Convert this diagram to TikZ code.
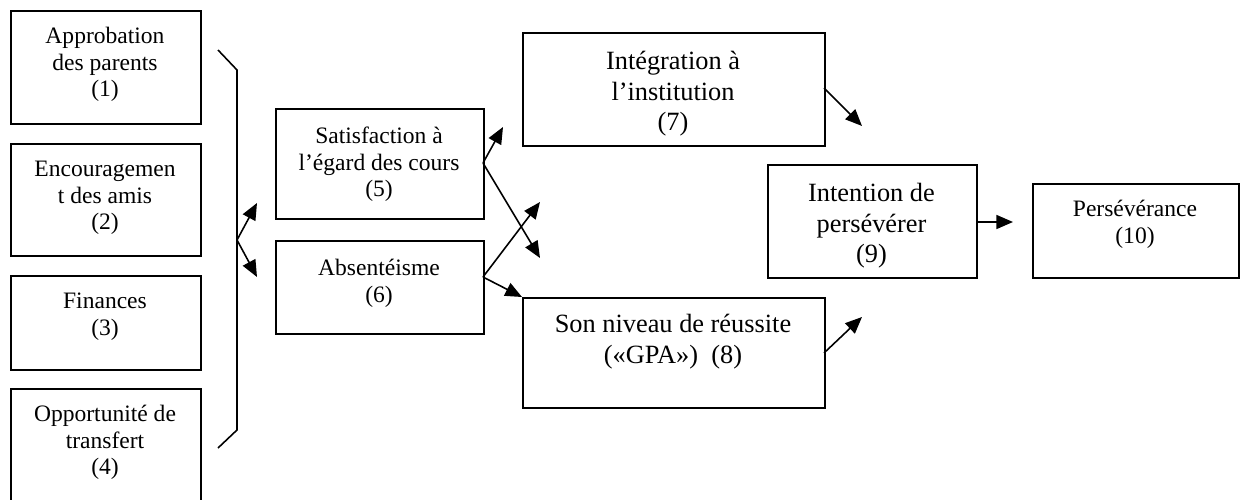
\documentclass[tikz,border=0pt]{standalone}
\usepackage{fontspec}
\setmainfont{Liberation Serif}
\usetikzlibrary{arrows.meta}
\tikzset{
  box/.style={draw, line width=1pt, rectangle, inner sep=0pt},
  smalltxt/.style={anchor=north, inner sep=0pt, align=center, font=\fontsize{13.4}{15.3}\selectfont},
  bigtxt/.style={anchor=north, inner sep=0pt, align=center, font=\fontsize{15}{17.3}\selectfont},
  arr/.style={line width=0.9pt, -{Triangle[length=9.5pt,width=8pt]}},
  brk/.style={line width=0.9pt},
}
\begin{document}
\begin{tikzpicture}[x=0.02cm,y=-0.02cm]
\useasboundingbox (0,0) rectangle (1240,500);
% boxes
\node[box, minimum width=190*0.02cm, minimum height=113*0.02cm, anchor=north west] (b1) at (10,10) {};
\node[box, minimum width=190*0.02cm, minimum height=112*0.02cm, anchor=north west] (b2) at (10,143) {};
\node[box, minimum width=190*0.02cm, minimum height=94*0.02cm, anchor=north west] (b3) at (10,275) {};
\node[box, minimum width=190*0.02cm, minimum height=120*0.02cm, anchor=north west] (b4) at (10,388) {};
\node[box, minimum width=208*0.02cm, minimum height=110*0.02cm, anchor=north west] (b5) at (275,108) {};
\node[box, minimum width=208*0.02cm, minimum height=93*0.02cm, anchor=north west] (b6) at (275,240) {};
\node[box, minimum width=302*0.02cm, minimum height=113*0.02cm, anchor=north west] (b7) at (522,32) {};
\node[box, minimum width=302*0.02cm, minimum height=110*0.02cm, anchor=north west] (b8) at (522,297) {};
\node[box, minimum width=209*0.02cm, minimum height=113*0.02cm, anchor=north west] (b9) at (767,164) {};
\node[box, minimum width=206*0.02cm, minimum height=94*0.02cm, anchor=north west] (b10) at (1032,183) {};
% texts
\node[smalltxt] (t1) at (105,24) {\strut Approbation\\des parents\\(1)};
\node[smalltxt] (t2) at (105,157) {\strut Encouragemen\\t des amis\\(2)};
\node[smalltxt] (t3) at (105,289) {\strut Finances\\(3)};
\node[smalltxt] (t4) at (105,402) {\strut Opportunité de\\transfert\\(4)};
\node[smalltxt] (t5) at (379,124) {\strut Satisfaction à\\l’égard des cours\\(5)};
\node[smalltxt] (t6) at (379,256) {\strut Absentéisme\\(6)};
\node[bigtxt] (t7) at (673,48) {\strut Intégration à\\l’institution\\(7)};
\node[bigtxt] (t8) at (673,311) {\strut Son niveau de réussite\\(«GPA»)\ \ (8)};
\node[bigtxt] (t9) at (871.5,180) {\strut Intention de\\persévérer\\(9)};
\node[smalltxt] (t10) at (1135,197) {\strut Persévérance\\(10)};
% bracket
\coordinate (k1) at (218,50);
\coordinate (k2) at (237,70);
\coordinate (k3) at (237,430);
\coordinate (k4) at (218,448);
\coordinate (km) at (237,240);
\draw[brk] (k1) -- (k2) -- (k3) -- (k4);
% arrow ends
\coordinate (a1) at (257,203);
\coordinate (a2) at (257,277);
\coordinate (s5) at (483,163);
\coordinate (c5u) at (503,127);
\coordinate (c5d) at (540,258);
\coordinate (s6) at (483,277);
\coordinate (c6u) at (540,202);
\coordinate (s7) at (824,88);
\coordinate (c7) at (862,126);
\coordinate (s8) at (824,353);
\coordinate (c8) at (862,317);
\coordinate (s9) at (976,222);
\coordinate (c9) at (1013,222);
% arrows
\draw[arr] (km) -- (a1);
\draw[arr] (km) -- (a2);
\draw[arr] (s5) -- (c5u);
\draw[arr] (s5) -- (c5d);
\draw[arr] (s6) -- (c6u);
\draw[arr] (s6) -- (b8.north west);
\draw[arr] (s7) -- (c7);
\draw[arr] (s8) -- (c8);
\draw[arr] (s9) -- (c9);
\end{tikzpicture}
\end{document}
